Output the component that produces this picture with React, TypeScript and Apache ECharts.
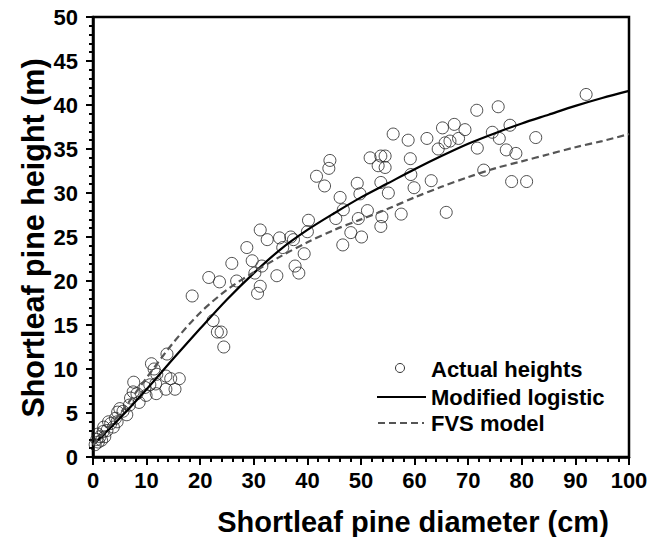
import React, { useEffect, useRef } from "react";
import * as echarts from "echarts";

const actualHeights: number[][] = [
  [92.0, 41.2], [75.6, 39.8], [77.8, 37.7], [82.6, 36.3], [77.1, 34.9], [78.9, 34.5],
  [78.1, 31.3], [80.9, 31.3], [71.6, 39.4], [67.4, 37.8], [69.4, 37.2], [65.2, 37.4],
  [74.5, 36.9], [56.0, 36.7], [58.8, 36.0], [62.3, 36.2], [64.4, 35.0], [66.6, 35.9],
  [68.2, 36.2], [65.7, 35.7], [75.8, 36.2], [71.7, 35.1], [44.2, 33.7], [44.0, 32.8],
  [51.7, 34.0], [53.7, 34.2], [54.5, 34.2], [53.2, 33.1], [54.5, 32.9], [59.2, 33.9],
  [59.3, 32.1], [72.9, 32.6], [46.1, 29.5], [49.3, 31.1], [49.8, 29.9], [53.7, 31.2],
  [55.1, 30.0], [59.9, 30.6], [63.1, 31.4], [46.7, 28.1], [45.3, 27.1], [51.2, 28.0],
  [49.5, 27.1], [53.9, 27.3], [53.7, 26.2], [57.5, 27.6], [65.9, 27.8], [48.1, 25.5],
  [50.1, 25.0], [46.6, 24.1], [41.7, 31.9], [43.2, 30.8], [40.2, 26.9], [40.0, 25.6],
  [34.8, 24.9], [36.9, 25.0], [37.4, 24.7], [35.4, 23.8], [39.4, 23.1], [31.2, 25.8],
  [32.5, 24.7], [28.7, 23.8], [25.9, 22.0], [29.7, 22.3], [31.5, 21.7], [30.2, 20.9],
  [37.7, 21.7], [38.4, 20.9], [34.3, 20.6], [21.6, 20.4], [23.6, 19.9], [26.8, 20.0],
  [31.2, 19.4], [30.7, 18.6], [18.5, 18.3], [22.4, 15.5], [23.2, 14.2], [23.9, 14.2],
  [24.4, 12.5], [13.8, 11.7], [10.9, 10.6], [11.4, 10.0], [7.6, 8.5], [11.9, 9.4],
  [13.6, 9.2], [14.5, 8.9], [16.1, 8.9], [10.6, 8.2], [11.7, 8.3], [9.7, 7.9],
  [11.8, 7.2], [13.6, 7.7], [15.3, 7.7], [7.5, 7.4], [9.9, 7.0], [8.6, 6.2],
  [5.0, 5.5], [4.6, 5.1], [6.3, 4.8], [2.9, 4.0], [3.8, 3.4], [1.9, 2.9],
  [1.3, 2.3], [2.2, 2.3], [1.0, 1.7], [0.4, 1.4], [0.7, 2.0], [1.6, 1.9],
  [2.6, 3.0], [3.3, 3.8], [4.2, 4.4], [5.6, 5.2], [6.8, 5.9], [0.9, 2.6],
  [2.0, 3.4], [4.5, 4.0], [7.0, 6.7], [8.2, 7.2],
];

const curveDiameters = [0, 5, 10, 15, 20, 25, 30, 35, 40, 45, 50, 55, 60, 65, 70, 75, 80, 85, 90, 95, 100];
const modifiedLogistic = [1.37, 4.4, 7.7, 11.2, 14.6, 17.9, 20.9, 23.6, 25.8, 27.7, 29.5, 31.1, 32.7, 34.2, 35.6, 36.8, 37.9, 38.9, 39.9, 40.8, 41.6];
const fvsModel = [1.37, 4.9, 9.0, 13.0, 16.4, 19.0, 21.0, 22.8, 24.4, 25.8, 27.0, 28.2, 29.5, 30.7, 31.8, 32.8, 33.6, 34.4, 35.2, 35.9, 36.7];

const seriesNames = ["Actual heights", "Modified logistic", "FVS model"];
const xTitle = "Shortleaf pine diameter (cm)";
const yTitle = "Shortleaf pine height (m)";

const FONT = "'Liberation Sans', Arial, sans-serif";

export default function App() {
  const ref = useRef<HTMLDivElement>(null);
  useEffect(() => {
    if (!ref.current) return;
    const chart = echarts.init(ref.current, null, { renderer: "svg" });
    const legendFont = `bold 22px ${FONT}`;
    chart.setOption({
      animation: false,
      backgroundColor: "#fff",
      grid: {
        left: 93, right: 33, top: 17, bottom: 80,
        show: true, borderColor: "#000", borderWidth: 2.5, backgroundColor: "transparent",
      },
      xAxis: {
        type: "value",
        min: 0, max: 100, interval: 10,
        axisLine: { show: true, onZero: false, lineStyle: { color: "#000", width: 2.5 } },
        axisTick: { show: true, inside: false, length: 8, lineStyle: { color: "#000", width: 2 } },
        minorTick: { show: true, splitNumber: 5, length: 5, lineStyle: { color: "#000", width: 2 } },
        axisLabel: { margin: 12, fontFamily: FONT, fontWeight: "bold", fontSize: 22, color: "#000" },
        splitLine: { show: false },
      },
      yAxis: {
        type: "value",
        min: 0, max: 50, interval: 5,
        axisLine: { show: true, onZero: false, lineStyle: { color: "#000", width: 2.5 } },
        axisTick: { show: true, inside: false, length: 7, lineStyle: { color: "#000", width: 2 } },
        minorTick: { show: true, splitNumber: 5, length: 4, lineStyle: { color: "#000", width: 2 } },
        axisLabel: { margin: 15, fontFamily: FONT, fontWeight: "bold", fontSize: 22, color: "#000" },
        splitLine: { show: false },
      },
      graphic: [
        {
          type: "text", x: 413, y: 522,
          style: { text: xTitle, font: `bold 29px ${FONT}`, fill: "#000", textAlign: "center", textVerticalAlign: "middle" },
        },
        {
          type: "text", x: 33, y: 238, rotation: Math.PI / 2,
          style: { text: yTitle, font: `bold 30.5px ${FONT}`, fill: "#000", textAlign: "center", textVerticalAlign: "middle" },
        },
        {
          type: "circle", shape: { cx: 400, cy: 368, r: 4.5 },
          style: { fill: "rgba(255,255,255,0)", stroke: "#333", lineWidth: 1 },
        },
        {
          type: "line", shape: { x1: 377, y1: 397, x2: 426, y2: 397 },
          style: { stroke: "#000", lineWidth: 2.2 },
        },
        {
          type: "line", shape: { x1: 378, y1: 423, x2: 424, y2: 423 },
          style: { stroke: "#555", lineWidth: 2.2, lineDash: [7, 4] },
        },
        {
          type: "text", x: 431, y: 369,
          style: { text: seriesNames[0], font: legendFont, fill: "#000", textAlign: "left", textVerticalAlign: "middle" },
        },
        {
          type: "text", x: 431, y: 397,
          style: { text: seriesNames[1], font: legendFont, fill: "#000", textAlign: "left", textVerticalAlign: "middle" },
        },
        {
          type: "text", x: 431, y: 423,
          style: { text: seriesNames[2], font: legendFont, fill: "#000", textAlign: "left", textVerticalAlign: "middle" },
        },
      ],
      series: [
        {
          name: seriesNames[0],
          type: "scatter",
          data: actualHeights,
          symbol: "circle",
          symbolSize: 12,
          itemStyle: { color: "rgba(255,255,255,0)", borderColor: "#222", borderWidth: 1 },
          z: 3,
        },
        {
          name: seriesNames[1],
          type: "line",
          data: curveDiameters.map((d, i) => [d, modifiedLogistic[i]]),
          smooth: 0.3,
          showSymbol: false,
          symbol: "none",
          lineStyle: { color: "#000", width: 2.2 },
          z: 4,
        },
        {
          name: seriesNames[2],
          type: "line",
          data: curveDiameters.map((d, i) => [d, fvsModel[i]]),
          smooth: 0.3,
          showSymbol: false,
          symbol: "none",
          lineStyle: { color: "#555", width: 2.2, type: [7, 4] },
          z: 4,
        },
      ],
    });
    return () => chart.dispose();
  }, []);
  return <div ref={ref} style={{ width: 662, height: 537, position: "absolute", left: 0, top: 0 }} />;
}
